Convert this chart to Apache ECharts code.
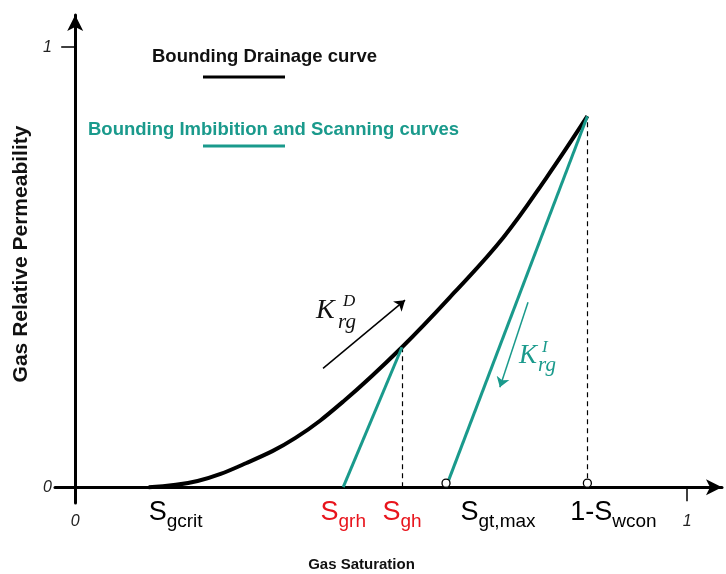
<!DOCTYPE html>
<html lang="en">
  <head>
    <meta charset="UTF-8" />
    <title>Gas Relative Permeability</title>
    <style>
      html, body { margin: 0; padding: 0; background: #fff; }
      #app { width: 726px; height: 574px; }
    </style>
  </head>
  <body>
    <div id="app"></div>
    <script src="https://cdn.jsdelivr.net/npm/echarts@6/dist/echarts.min.js"></script>
    <script>
      // key saturations (fractions)
      var sgcrit = 0.12
      var sgrh = 0.438
      var sgh = 0.534
      var sgtMax = 0.606
      var swconEnd = 0.837
      // krg values at turning points
      var krgSgh = 0.318
      var krgMax = 0.843

      // bounding drainage curve
      var drainageCurve = [
        [sgcrit, 0], [0.2, 0.014], [0.28, 0.055], [0.36, 0.112],
        [0.44, 0.197], [sgh, krgSgh], [0.62, 0.443], [0.7, 0.568],
        [0.77, 0.703], [swconEnd, krgMax]
      ]
      // imbibition / scanning curves
      var scanningCurve = [[sgrh, 0], [sgh, krgSgh]]
      var imbibitionCurve = [[sgtMax, 0], [swconEnd, krgMax]]
      var dropLines = [
        [[sgh, 0], [sgh, krgSgh]],
        [[swconEnd, 0], [swconEnd, krgMax]]
      ]
      var openPoints = [[sgtMax, 0], [swconEnd, 0]]

      // direction arrows
      var drainageArrow = [[0.405, 0.27], [0.539, 0.425]]
      var imbibitionArrow = [[0.74, 0.42], [0.694, 0.227]]

      // saturation labels under the axis
      var satNames = ['gcrit', 'grh', 'gh', 'gtmax', 'wcon']
      var satValues = [sgcrit, sgrh, sgh, sgtMax, swconEnd]
      var satShift = [27, 0, 0, 52, 26]

      var teal = '#1a9a8c'
      var red = '#e8141c'

      var satText = {
        gcrit: '{s|S}{sub|gcrit}',
        grh: '{r|S}{rsub|grh}',
        gh: '{r|S}{rsub|gh}',
        gtmax: '{s|S}{sub|gt,max}',
        wcon: '{s|1-S}{sub|wcon}'
      }

      var chart = echarts.init(document.getElementById('app'))

      var option = {
        animation: false,
        textStyle: { fontFamily: 'Liberation Sans, Arial, sans-serif' },
        grid: { left: 55, right: 4, top: 15, bottom: 71, containLabel: false, outerBoundsMode: 'none' },
        xAxis: {
          type: 'value',
          min: -0.033,
          max: 1.057,
          name: 'Gas Saturation',
          nameLocation: 'middle',
          nameGap: 54,
          nameTextStyle: { fontSize: 15, fontWeight: 'bold', color: '#111', padding: [0, 54, 0, 0] },
          axisLine: {
            onZero: true,
            symbol: ['none', 'arrow'],
            symbolSize: [12, 16],
            lineStyle: { color: '#000', width: 3 }
          },
          axisTick: { customValues: [1], length: 14, lineStyle: { color: '#000', width: 1.5 } },
          axisLabel: {
            customValues: [0, 1],
            fontStyle: 'italic',
            fontSize: 16,
            color: '#222',
            margin: 11
          },
          splitLine: { show: false }
        },
        yAxis: {
          type: 'value',
          min: -0.036,
          max: 1.073,
          name: 'Gas Relative Permeability',
          nameLocation: 'middle',
          nameGap: 7,
          nameTextStyle: { fontSize: 21, fontWeight: 'bold', color: '#111', padding: [0, 0, 0, 10] },
          axisLine: {
            onZero: true,
            symbol: ['none', 'arrow'],
            symbolSize: [12, 16],
            lineStyle: { color: '#000', width: 3 }
          },
          axisTick: { customValues: [1], length: 14, lineStyle: { color: '#000', width: 1.5 } },
          axisLabel: {
            customValues: [0, 1],
            fontStyle: 'italic',
            fontSize: 16,
            color: '#222',
            margin: 3
          },
          splitLine: { show: false }
        },
        series: [
          {
            name: 'Bounding Drainage curve',
            type: 'line',
            data: drainageCurve,
            smooth: 0.4,
            symbol: 'none',
            lineStyle: { color: '#000', width: 4 },
            z: 3
          },
          {
            name: 'Scanning curve',
            type: 'line',
            data: scanningCurve,
            symbol: 'none',
            lineStyle: { color: teal, width: 3 },
            z: 4
          },
          {
            name: 'Bounding Imbibition curve',
            type: 'line',
            data: imbibitionCurve,
            symbol: 'none',
            lineStyle: { color: teal, width: 3 },
            z: 4
          },
          {
            type: 'lines',
            coordinateSystem: 'cartesian2d',
            data: dropLines.map(function(c) { return { coords: c } }),
            lineStyle: { color: '#000', width: 1.2, type: [5, 4], opacity: 1 },
            z: 2
          },
          {
            type: 'lines',
            coordinateSystem: 'cartesian2d',
            symbol: ['none', 'arrow'],
            symbolSize: 10,
            data: [
              { coords: drainageArrow, lineStyle: { color: '#000' } },
              { coords: imbibitionArrow, lineStyle: { color: teal } }
            ],
            lineStyle: { width: 1.5, opacity: 1 },
            z: 5
          },
          {
            type: 'scatter',
            data: openPoints,
            symbol: 'circle',
            symbolSize: 8,
            symbolOffset: [0, -4],
            itemStyle: { color: '#fff', borderColor: '#000', borderWidth: 1.3, opacity: 1 },
            z: 6
          },
          {
            type: 'scatter',
            data: satValues.map(function(v, i) {
              return {
                value: [v, 0],
                label: { offset: [satShift[i], 28], formatter: satText[satNames[i]] }
              }
            }),
            symbolSize: 0,
            silent: true,
            itemStyle: { opacity: 1 },
            label: {
              show: true,
              position: 'inside',
              textBorderWidth: 0,
              opacity: 1,
              rich: {
                s: { fontSize: 27, color: '#000', verticalAlign: 'bottom', padding: [0, 0, 5, 0] },
                sub: { fontSize: 19, color: '#000', verticalAlign: 'bottom' },
                r: { fontSize: 27, color: red, verticalAlign: 'bottom', padding: [0, 0, 5, 0] },
                rsub: { fontSize: 19, color: red, verticalAlign: 'bottom' }
              }
            },
            z: 7
          }
        ],
        graphic: [
          // legend
          { type: 'text', left: 152, top: 47, style: { text: 'Bounding Drainage curve', font: 'bold 18.5px Liberation Sans', fill: '#111' } },
          { type: 'line', shape: { x1: 203, y1: 77, x2: 285, y2: 77 }, style: { stroke: '#000', lineWidth: 3 } },
          { type: 'text', left: 88, top: 120, style: { text: 'Bounding Imbibition and Scanning curves', font: 'bold 18.5px Liberation Sans', fill: teal } },
          { type: 'line', shape: { x1: 203, y1: 146, x2: 285, y2: 146 }, style: { stroke: teal, lineWidth: 3 } },
          // K_rg^D
          { type: 'text', x: 316, y: 311, style: { text: 'K', font: 'italic 28px Liberation Serif', fill: '#111', verticalAlign: 'middle' } },
          { type: 'text', x: 343, y: 302, style: { text: 'D', font: 'italic 17px Liberation Serif', fill: '#111', verticalAlign: 'middle' } },
          { type: 'text', x: 338, y: 322, style: { text: 'rg', font: 'italic 21px Liberation Serif', fill: '#111', verticalAlign: 'middle' } },
          // K_rg^I
          { type: 'text', x: 519, y: 356, style: { text: 'K', font: 'italic 27px Liberation Serif', fill: teal, verticalAlign: 'middle' } },
          { type: 'text', x: 542, y: 348, style: { text: 'I', font: 'italic 17px Liberation Serif', fill: teal, verticalAlign: 'middle' } },
          { type: 'text', x: 538, y: 365, style: { text: 'rg', font: 'italic 21px Liberation Serif', fill: teal, verticalAlign: 'middle' } }
        ]
      }

      chart.setOption(option)
    </script>
  </body>
</html>
